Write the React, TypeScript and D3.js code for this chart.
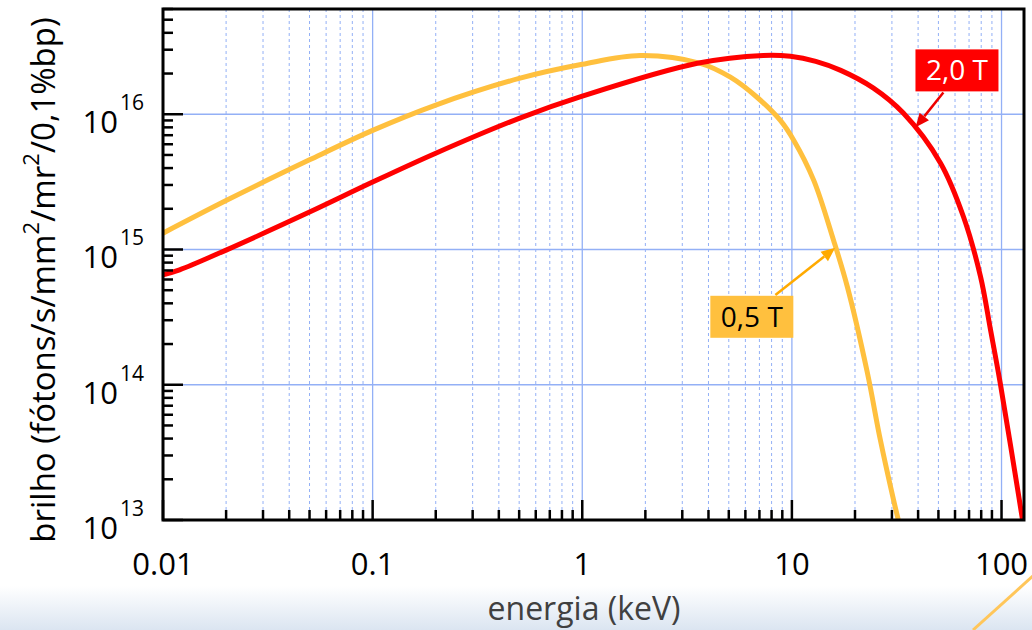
import * as d3 from "d3";

// energia (keV) / brilho for each field
const energy05 = [0.01, 0.02, 0.05, 0.1, 0.2, 0.5, 1, 1.89, 3.66, 5.09, 6.84, 8.81, 10.2, 12.7, 15.8, 18.4, 22.9, 26.4, 30.5, 32.2];
const bright05 = [1.32e15, 2.3e15, 4.6e15, 7.6e15, 1.17e16, 1.84e16, 2.34e16, 2.72e16, 2.38e16, 1.88e16, 1.33e16, 9.0e15, 6.43e15, 3.26e15, 1.17e15, 5.28e14, 1.23e14, 3.93e13, 1.42e13, 1e13];

const energy20 = [0.01, 0.012, 0.02, 0.05, 0.1, 0.2, 0.5, 1, 3.54, 7.3, 9.84, 13, 17.1, 24.5, 34, 51.2, 65.9, 79.4, 88.6, 98.9, 126];
const bright20 = [6.5e14, 7.07e14, 9.9e14, 1.89e15, 3.15e15, 5.15e15, 9.33e15, 1.36e16, 2.38e16, 2.72e16, 2.68e16, 2.46e16, 2.11e16, 1.56e16, 1.02e16, 4.35e15, 1.74e15, 6.3e14, 2.55e14, 1e14, 1e13];

const xTickValues = [0.01, 0.1, 1, 10, 100];
const xTickLabels = ["0.01", "0.1", "1", "10", "100"];
const yTickValues = [1e13, 1e14, 1e15, 1e16];
const yTickExponents = ["13", "14", "15", "16"];

const W = 1032;
const H = 630;
const PLOT = { left: 163, right: 1024, top: 9, bottom: 520 };
const FONT = "'Open Sans', 'Noto Sans', sans-serif";

const ORANGE = "#ffc03e";
const RED = "#ff0000";
const GRID = "#93b0f6";

const x = d3.scaleLog().domain([0.01, 128]).range([PLOT.left, PLOT.right]);
const y = d3.scaleLog().domain([1e13, 6e16]).range([PLOT.bottom, PLOT.top]);

const line = d3
  .line<[number, number]>()
  .x((d) => x(d[0]))
  .y((d) => y(d[1]))
  .curve(d3.curveCatmullRom.alpha(0.5));

const zip = (a: number[], b: number[]) => a.map((v, i) => [v, b[i]] as [number, number]);

const isMajor = (v: number) => Math.abs(Math.log10(v) - Math.round(Math.log10(v))) < 1e-6;
const xMinor = x.ticks().filter((v) => !isMajor(v));
const yMinor = y.ticks().filter((v) => !isMajor(v));

// label annotations, in data coordinates
const labels = [
  { text: "2,0 T", fill: RED, color: "#fff", arrow: "#ee0000", at: [61.3, 2.11e16], from: [52.8, 1.45e16], tip: [38.9, 8.0e15] },
  { text: "0,5 T", fill: ORANGE, color: "#000", arrow: "#ffaa00", at: [6.44, 3.18e14], from: [8.34, 4.61e14], tip: [16.1, 1.03e15] },
];

function Arrow({ from, tip, color }: { from: number[]; tip: number[]; color: string }) {
  const x1 = x(from[0]), y1 = y(from[1]);
  const x2 = x(tip[0]), y2 = y(tip[1]);
  const ang = Math.atan2(y2 - y1, x2 - x1);
  const len = 14, half = 6;
  const bx = x2 - len * Math.cos(ang), by = y2 - len * Math.sin(ang);
  const px = -Math.sin(ang) * half, py = Math.cos(ang) * half;
  return (
    <g>
      <line x1={x1} y1={y1} x2={bx} y2={by} stroke={color} strokeWidth={2.5} />
      <polygon points={`${x2},${y2} ${bx + px},${by + py} ${bx - px},${by - py}`} fill={color} />
    </g>
  );
}

export default function App() {
  return (
    <svg
      width={W}
      height={H}
      viewBox={`0 0 ${W} ${H}`}
      style={{ position: "absolute", left: 0, top: 0, background: "#fff" }}
      fontFamily={FONT}
    >
      <defs>
        <linearGradient id="band" x1="0" y1="0" x2="0" y2="1">
          <stop offset="0" stopColor="#ffffff" />
          <stop offset="1" stopColor="#dbe5f1" />
        </linearGradient>
        <clipPath id="plotClip">
          <rect x={PLOT.left} y={PLOT.top} width={PLOT.right - PLOT.left} height={PLOT.bottom - PLOT.top} />
        </clipPath>
      </defs>

      {/* slide background band */}
      <rect x={0} y={586} width={W} height={H - 586} fill="url(#band)" />
      <line x1={973} y1={630} x2={1034} y2={575} stroke="#ffc65a" strokeWidth={3} />

      {/* grid */}
      {xMinor.map((v) => (
        <line key={"xm" + v} x1={x(v)} x2={x(v)} y1={PLOT.top} y2={PLOT.bottom} stroke={GRID} strokeWidth={1} strokeDasharray="3,3" />
      ))}
      {xTickValues.slice(1).map((v) => (
        <line key={"xg" + v} x1={x(v)} x2={x(v)} y1={PLOT.top} y2={PLOT.bottom} stroke={GRID} strokeWidth={1.3} />
      ))}
      {yTickValues.slice(1).map((v) => (
        <line key={"yg" + v} x1={PLOT.left} x2={PLOT.right} y1={y(v)} y2={y(v)} stroke={GRID} strokeWidth={1.3} />
      ))}

      {/* curves */}
      <g clipPath="url(#plotClip)" fill="none" strokeWidth={5} strokeLinejoin="round">
        <path d={line(zip(energy05, bright05)) ?? ""} stroke={ORANGE} />
        <path d={line(zip(energy20, bright20)) ?? ""} stroke={RED} />
      </g>

      {/* ticks */}
      <g stroke="#000" strokeWidth={2.5}>
        {xMinor.map((v) => (
          <line key={"xt" + v} x1={x(v)} x2={x(v)} y1={PLOT.bottom} y2={PLOT.bottom - 10} />
        ))}
        {xTickValues.map((v) => (
          <line key={"xT" + v} x1={x(v)} x2={x(v)} y1={PLOT.bottom} y2={PLOT.bottom - 20} />
        ))}
        {yMinor.map((v) => (
          <line key={"yt" + v} x1={PLOT.left} x2={PLOT.left + 10} y1={y(v)} y2={y(v)} />
        ))}
        {yTickValues.map((v) => (
          <line key={"yT" + v} x1={PLOT.left} x2={PLOT.left + 20} y1={y(v)} y2={y(v)} />
        ))}
      </g>

      {/* frame */}
      <rect x={PLOT.left} y={PLOT.top} width={PLOT.right - PLOT.left} height={PLOT.bottom - PLOT.top} fill="none" stroke="#000" strokeWidth={3} />

      {/* tick labels */}
      {xTickValues.map((v, i) => (
        <text key={"xl" + v} x={x(v)} y={PLOT.bottom + 55} textAnchor="middle" fontSize={31} fill="#000">
          {xTickLabels[i]}
        </text>
      ))}
      {yTickValues.map((v, i) => (
        <g key={"yl" + v}>
          <text x={118} y={y(v) + 19} textAnchor="end" fontSize={31} fill="#000">10</text>
          <text x={120} y={y(v) - 4} fontSize={21} fill="#000">{yTickExponents[i]}</text>
        </g>
      ))}

      {/* axis titles */}
      <text x={584} y={620} textAnchor="middle" fontSize={32} fill="#404040">energia (keV)</text>
      <text transform="translate(55,280) rotate(-90)" textAnchor="middle" fontSize={33} fill="#000">
        brilho (fótons/s/mm<tspan dy={-16} fontSize={22}>2</tspan>
        <tspan dy={16}>/mr</tspan>
        <tspan dy={-16} fontSize={22}>2</tspan>
        <tspan dy={16}>/0,1%bp)</tspan>
      </text>

      {/* annotations */}
      {labels.map((l) => (
        <g key={l.text}>
          <Arrow from={l.from} tip={l.tip} color={l.arrow} />
          <rect x={x(l.at[0]) - 41.5} y={y(l.at[1]) - 21} width={83} height={42} fill={l.fill} />
          <text x={x(l.at[0])} y={y(l.at[1]) + 10} textAnchor="middle" fontSize={28} fill={l.color}>
            {l.text}
          </text>
        </g>
      ))}
    </svg>
  );
}
